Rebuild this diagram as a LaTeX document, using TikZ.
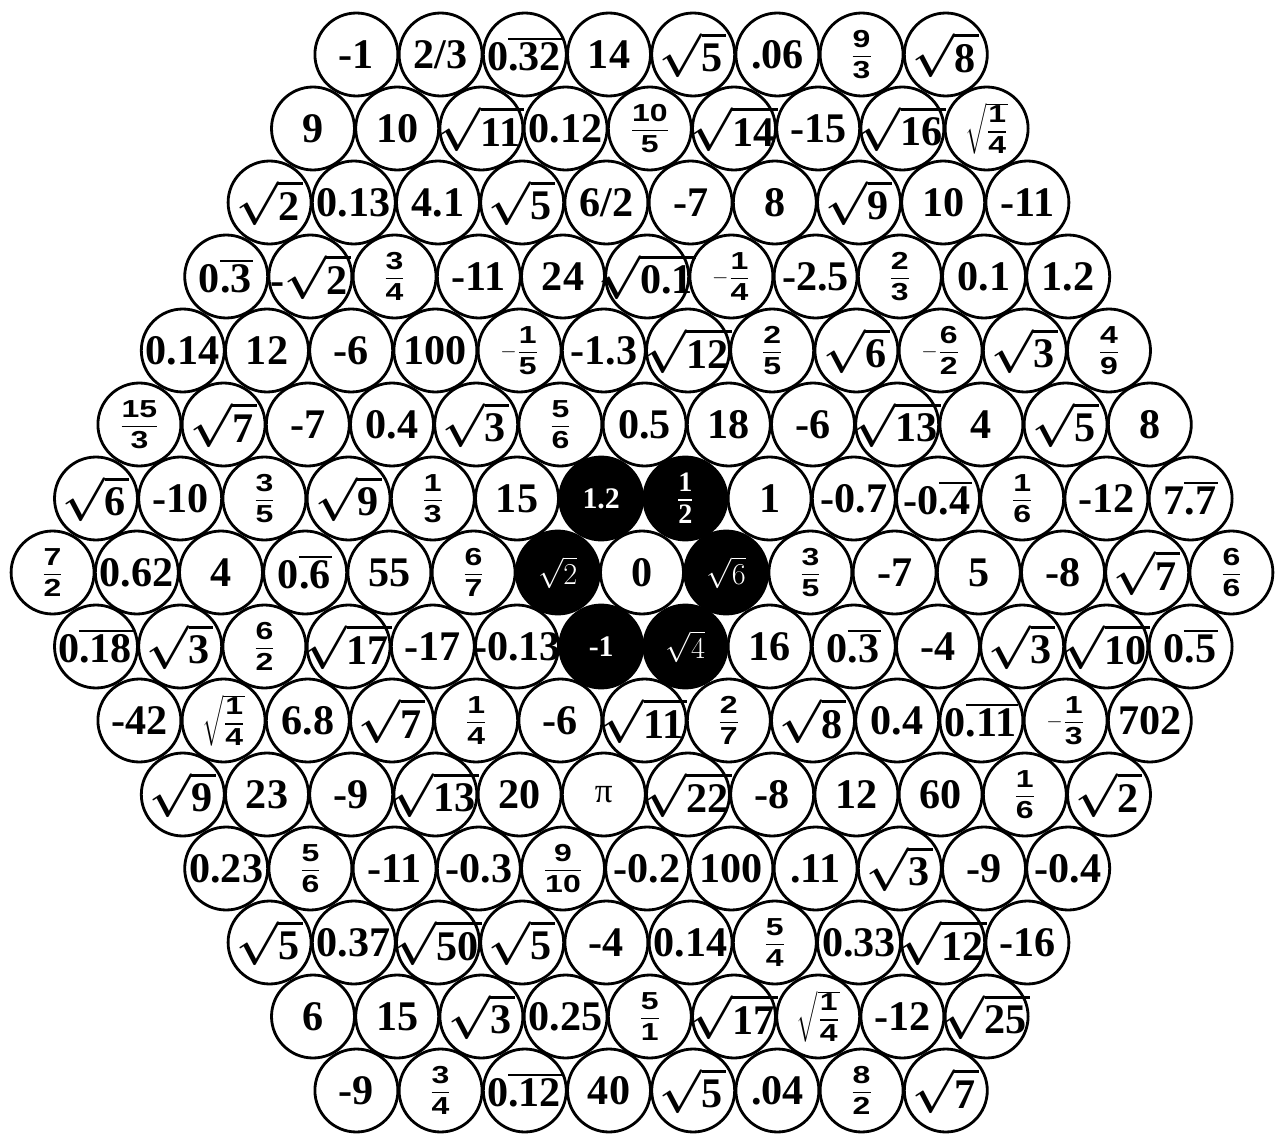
\documentclass[tikz,border=0pt]{standalone}
\usepackage{fontspec}
\setmainfont{Liberation Serif}
\setsansfont{Liberation Sans}
\usepackage{amsmath}

\newcommand\fracfont{\sffamily\bfseries\fontsize{14}{16}\selectfont}
\newcommand\fracdig[1]{\hbox{\fracfont\scalebox{1.3}[1]{#1}}}
\newcommand\fr[2]{{\fontsize{12}{14}\selectfont$\genfrac{}{}{0.8pt}{0}{\fracdig{#1}}{\fracdig{#2}}$}}
\newcommand\nfr[2]{{\fontsize{12}{14}\selectfont$-\genfrac{}{}{0.8pt}{0}{\fracdig{#1}}{\fracdig{#2}}$}}
\newcommand\whfr[2]{{\fontsize{11}{13}\selectfont$\genfrac{}{}{0.8pt}{0}{\hbox{\bfseries\fontsize{16}{18}\selectfont#1}}{\hbox{\bfseries\fontsize{16}{18}\selectfont#2}}$}}
\newcommand\rt[1]{{\boldmath$\sqrt{\hbox{#1\kern2pt}}$}}
\newcommand\rtfr[2]{{\fontsize{12}{14}\selectfont$\sqrt{\genfrac{}{}{0.8pt}{0}{\fracdig{#1}}{\fracdig{#2}}}$}}
\newcommand\rep[1]{\vbox{\hrule height1.2pt\kern1.5pt\hbox{#1\kern1pt}}}
\newcommand\blackcell[2]{\expandafter\def\csname hole@#1@#2\endcsname{}}
\blackcell{7}{7}\blackcell{7}{8}\blackcell{8}{7}\blackcell{8}{9}\blackcell{9}{7}\blackcell{9}{8}

\begin{document}
\begin{tikzpicture}[x=0.02cm, y=-0.02cm,
    cell/.style={draw, circle, line width=1.6pt, minimum size=1.66cm, inner sep=-14pt,
      font=\bfseries\fontsize{24}{26}\selectfont},
    hole/.style={cell, fill=black, text=white, font=\bfseries\fontsize{17}{19}\selectfont}]
  \useasboundingbox (0,0) rectangle (1275,1135);
  \foreach \rw/\items in {
    1/{-1, 2/3, 0\rep{.32}, 14, \rt{5}, .06, \fr{9}{3}, \rt{8}},
    2/{9, 10, \rt{11}, 0.12, \fr{10}{5}, \rt{14}, -15, \rt{16}, \rtfr{1}{4}},
    3/{\rt{2}, 0.13, 4.1, \rt{5}, 6/2, -7, 8, \rt{9}, 10, -11},
    4/{0\rep{.3}, -\rt{2}, \fr{3}{4}, -11, 24, \rt{0.1}, \nfr{1}{4}, -2.5, \fr{2}{3}, 0.1, 1.2},
    5/{0.14, 12, -6, 100, \nfr{1}{5}, -1.3, \rt{12}, \fr{2}{5}, \rt{6}, \nfr{6}{2}, \rt{3}, \fr{4}{9}},
    6/{\fr{15}{3}, \rt{7}, -7, 0.4, \rt{3}, \fr{5}{6}, 0.5, 18, -6, \rt{13}, 4, \rt{5}, 8},
    7/{\rt{6}, -10, \fr{3}{5}, \rt{9}, \fr{1}{3}, 15, 1.2, \whfr{1}{2}, 1, -0.7, -0\rep{.4}, \fr{1}{6}, -12, 7\rep{.7}},
    8/{\fr{7}{2}, 0.62, 4, 0\rep{.6}, 55, \fr{6}{7}, $\sqrt{2}$, 0, $\sqrt{6}$, \fr{3}{5}, -7, 5, -8, \rt{7}, \fr{6}{6}},
    9/{0\rep{.18}, \rt{3}, \fr{6}{2}, \rt{17}, -17, -0.13, -1, $\sqrt{4}$, 16, 0\rep{.3}, -4, \rt{3}, \rt{10}, 0\rep{.5}},
    10/{-42, \rtfr{1}{4}, 6.8, \rt{7}, \fr{1}{4}, -6, \rt{11}, \fr{2}{7}, \rt{8}, 0.4, 0\rep{.11}, \nfr{1}{3}, 702},
    11/{\rt{9}, 23, -9, \rt{13}, 20, {\mdseries\fontsize{20}{22}\selectfont π}, \rt{22}, -8, 12, 60, \fr{1}{6}, \rt{2}},
    12/{0.23, \fr{5}{6}, -11, -0.3, \fr{9}{10}, -0.2, 100, .11, \rt{3}, -9, -0.4},
    13/{\rt{5}, 0.37, \rt{50}, \rt{5}, -4, 0.14, \fr{5}{4}, 0.33, \rt{12}, -16},
    14/{6, 15, \rt{3}, 0.25, \fr{5}{1}, \rt{17}, \rtfr{1}{4}, -12, \rt{25}},
    15/{-9, \fr{3}{4}, 0\rep{.12}, 40, \rt{5}, .04, \fr{8}{2}, \rt{7}}} {
    \pgfmathtruncatemacro\n{15-abs(\rw-8)}
    \foreach \t [count=\k] in \items {
      \pgfmathsetmacro\x{642+1.3*abs(\rw-8)+(\k-(\n+1)/2)*84.2}
      \pgfmathsetmacro\y{54.5+74*(\rw-1)}
      \ifcsname hole@\rw @\k\endcsname
        \node[hole] (c-\rw-\k) at (\x,\y) {\t};
      \else
        \node[cell] (c-\rw-\k) at (\x,\y) {\t};
      \fi
    }
  }
\end{tikzpicture}
\end{document}
